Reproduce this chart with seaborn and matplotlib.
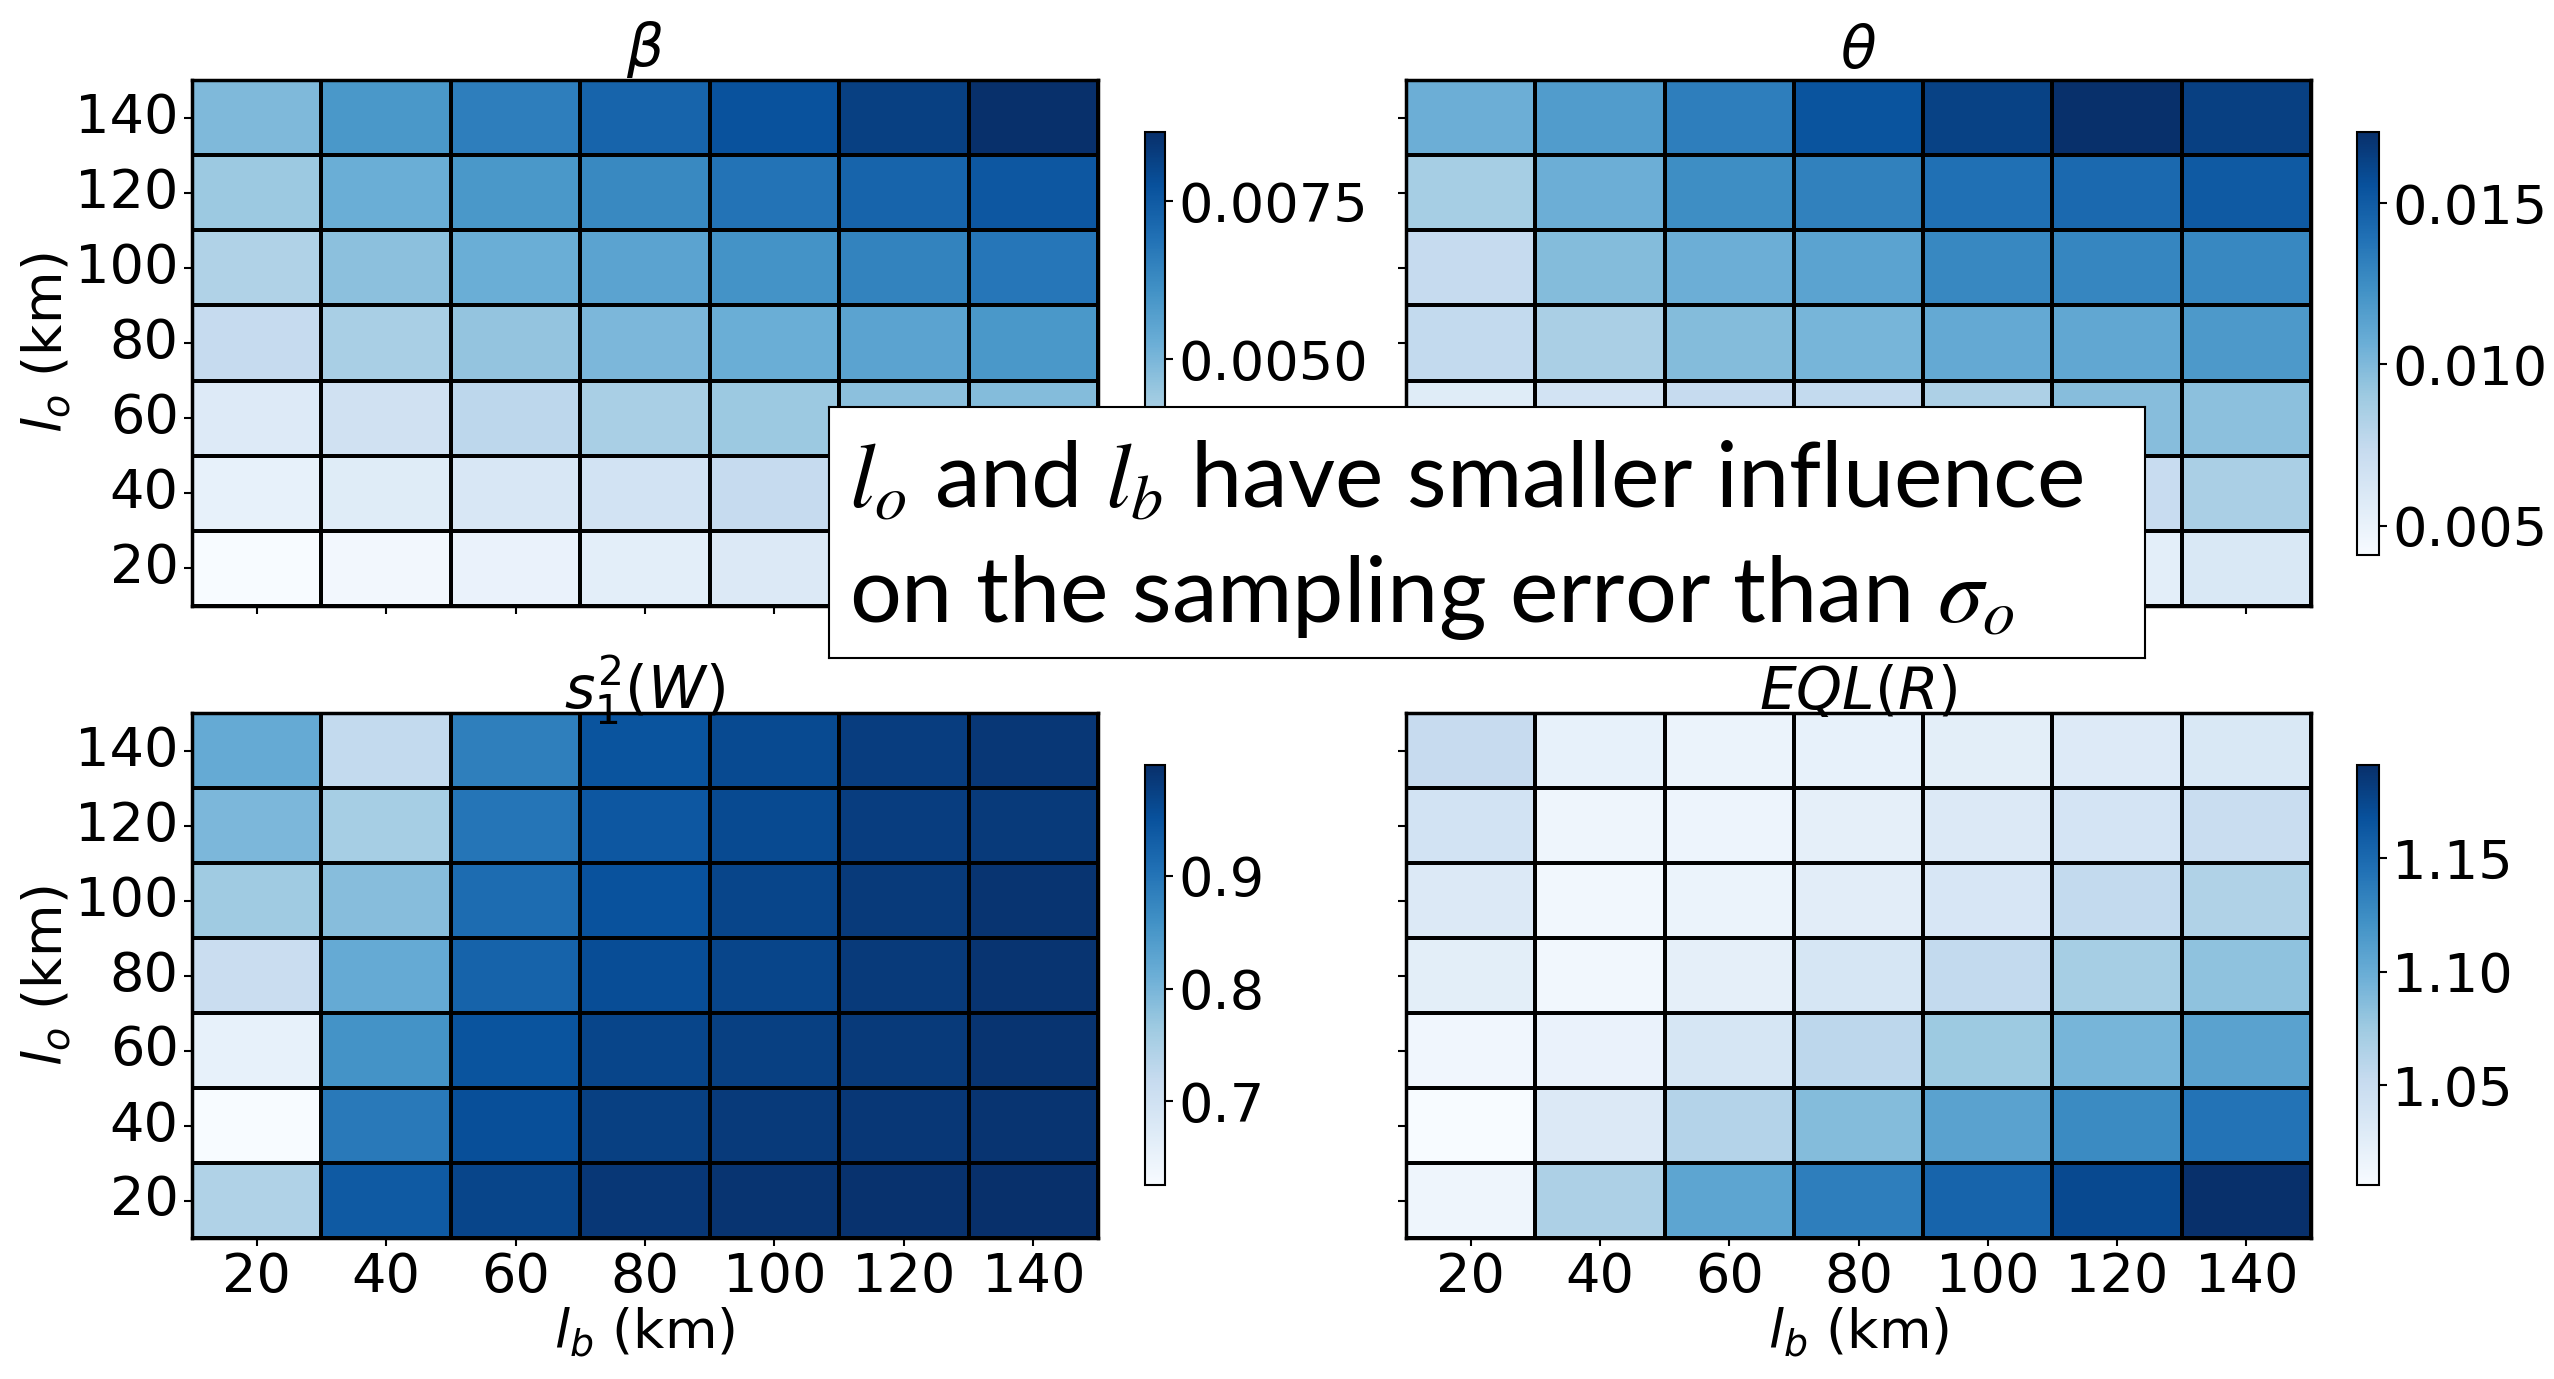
import numpy as np
import pandas as pd
import matplotlib
matplotlib.use("Agg")
import matplotlib.pyplot as plt
import seaborn as sns
from matplotlib.ticker import FixedLocator, FormatStrFormatter

# ---------------- data ----------------
lb_km = [20, 40, 60, 80, 100, 120, 140]          # columns (x)
lo_km = [140, 120, 100, 80, 60, 40, 20]          # rows (y), top to bottom

beta = [
    [0.00492, 0.00592, 0.00659, 0.00726, 0.00773, 0.00820, 0.00860],
    [0.00445, 0.00525, 0.00592, 0.00632, 0.00686, 0.00726, 0.00760],
    [0.00404, 0.00471, 0.00525, 0.00559, 0.00605, 0.00646, 0.00679],
    [0.00358, 0.00418, 0.00458, 0.00498, 0.00525, 0.00559, 0.00592],
    [0.00277, 0.00324, 0.00378, 0.00418, 0.00445, 0.00471, 0.00485],
    [0.00244, 0.00270, 0.00297, 0.00317, 0.00358, 0.00384, 0.00411],
    [0.00190, 0.00210, 0.00237, 0.00257, 0.00284, 0.00304, 0.00331],
]
theta = [
    [0.01065, 0.01170, 0.01327, 0.01537, 0.01628, 0.01720, 0.01641],
    [0.00869, 0.01065, 0.01248, 0.01314, 0.01393, 0.01432, 0.01510],
    [0.00738, 0.00986, 0.01065, 0.01131, 0.01275, 0.01288, 0.01275],
    [0.00751, 0.00855, 0.00986, 0.01026, 0.01091, 0.01104, 0.01183],
    [0.00567, 0.00659, 0.00738, 0.00751, 0.00842, 0.00973, 0.00960],
    [0.00489, 0.00541, 0.00580, 0.00620, 0.00672, 0.00724, 0.00855],
    [0.00410, 0.00436, 0.00462, 0.00489, 0.00515, 0.00541, 0.00607],
]
s1_sq_W = [
    [0.819, 0.723, 0.886, 0.946, 0.961, 0.979, 0.987],
    [0.797, 0.756, 0.898, 0.942, 0.961, 0.979, 0.983],
    [0.764, 0.786, 0.912, 0.950, 0.968, 0.983, 0.991],
    [0.712, 0.819, 0.924, 0.957, 0.968, 0.983, 0.991],
    [0.656, 0.857, 0.946, 0.968, 0.976, 0.983, 0.991],
    [0.626, 0.894, 0.953, 0.976, 0.983, 0.987, 0.991],
    [0.745, 0.938, 0.968, 0.987, 0.991, 0.994, 0.998],
]
eql_R = [
    [1.052, 1.021, 1.017, 1.021, 1.025, 1.030, 1.034],
    [1.041, 1.015, 1.016, 1.023, 1.032, 1.039, 1.050],
    [1.032, 1.012, 1.017, 1.026, 1.036, 1.054, 1.065],
    [1.025, 1.012, 1.023, 1.037, 1.054, 1.071, 1.082],
    [1.013, 1.019, 1.037, 1.058, 1.076, 1.093, 1.108],
    [1.006, 1.032, 1.063, 1.087, 1.108, 1.126, 1.143],
    [1.015, 1.067, 1.106, 1.136, 1.154, 1.173, 1.191],
]

titles = [r"$\beta$", r"$\theta$", r"$s_1^2(W)$", r"$EQL(R)$"]
cbar_ticks = [
    [0.0050, 0.0075],
    [0.005, 0.010, 0.015],
    [0.7, 0.8, 0.9],
    [1.05, 1.10, 1.15],
]
cbar_fmt = ["%.4f", "%.3f", "%.1f", "%.2f"]
xlabel = r"$l_b$ (km)"
ylabel = r"$l_o$ (km)"
note_line1 = r"$l_o$ and $l_b$ have smaller influence"
note_line2 = r"on the sampling error than $\sigma_o$"

# ---------------- figure ----------------
sns.set_style("white")
plt.rcParams["font.family"] = ["DejaVu Sans"]
plt.rcParams["text.color"] = "black"
plt.rcParams["axes.labelcolor"] = "black"
plt.rcParams["xtick.color"] = "black"
plt.rcParams["ytick.color"] = "black"
W, H = 2554, 1379
fig = plt.figure(figsize=(W / 100, H / 100), dpi=100)

def fx(px):
    return px / W

def fy(px):
    return 1 - px / H

axes_px = [  # left, top, right, bottom (pixels)
    (192, 80, 1098, 606),
    (1406, 80, 2311, 606),
    (192, 713, 1098, 1238),
    (1406, 713, 2311, 1238),
]
cbar_px = [
    (1145, 132, 1165, 555),
    (2357, 132, 2379, 555),
    (1145, 765, 1165, 1185),
    (2357, 765, 2379, 1185),
]

datasets = [beta, theta, s1_sq_W, eql_R]
FS = 39
TFS = 42

for i, data in enumerate(datasets):
    l, t, r, b = axes_px[i]
    ax = fig.add_axes([fx(l), fy(b), fx(r) - fx(l), fy(t) - fy(b)])
    cl, ct, cr, cb = cbar_px[i]
    cax = fig.add_axes([fx(cl), fy(cb), fx(cr) - fx(cl), fy(ct) - fy(cb)])
    df = pd.DataFrame(data, index=lo_km, columns=lb_km)
    sns.heatmap(df, ax=ax, cmap="Blues", linewidths=1.6, linecolor="black",
                cbar_ax=cax)
    for sp in ax.spines.values():
        sp.set_visible(True)
        sp.set_color("black")
        sp.set_linewidth(2.5)
    ax.set_title(titles[i], fontsize=TFS, pad=3, color="black")
    ax.tick_params(axis="both", labelsize=FS, length=6, width=1.5,
                   color="black", labelcolor="black", bottom=True, left=True)
    ax.set_yticklabels([str(v) for v in lo_km], rotation=0)
    ax.set_xticklabels([str(v) for v in lb_km], rotation=0)
    if i < 2:
        ax.tick_params(axis="x", labelbottom=False)
        ax.set_xlabel("")
    else:
        ax.set_xlabel(xlabel, fontsize=FS, color="black", labelpad=2)
    if i % 2 == 1:
        ax.tick_params(axis="y", labelleft=False)
        ax.set_ylabel("")
    else:
        ax.set_ylabel(ylabel, fontsize=FS, color="black", labelpad=2)

    cbar = ax.collections[0].colorbar
    cbar.outline.set_visible(True)
    cbar.outline.set_edgecolor("black")
    cbar.outline.set_linewidth(1.5)
    cax.yaxis.set_major_locator(FixedLocator(cbar_ticks[i]))
    cax.yaxis.set_major_formatter(FormatStrFormatter(cbar_fmt[i]))
    cax.tick_params(labelsize=FS, length=6, width=1.5, color="black",
                    labelcolor="black", right=True)

# ---------------- overlay note ----------------
bx0, by0, bx1, by1 = 829, 407, 2145, 658
nax = fig.add_axes([fx(bx0), fy(by1), fx(bx1) - fx(bx0), fy(by0) - fy(by1)])
nax.set_xticks([])
nax.set_yticks([])
nax.set_facecolor("white")
for sp in nax.spines.values():
    sp.set_visible(True)
    sp.set_color("black")
    sp.set_linewidth(1.5)
nax.text(0.015, 0.60, note_line1, transform=nax.transAxes, fontsize=66,
         family=["Lato", "DejaVu Sans"], math_fontfamily="stix",
         color="black", ha="left", va="baseline")
nax.text(0.015, 0.143, note_line2, transform=nax.transAxes, fontsize=66,
         family=["Lato", "DejaVu Sans"], math_fontfamily="stix",
         color="black", ha="left", va="baseline")

fig.savefig("out.png", dpi=100, facecolor="white")
